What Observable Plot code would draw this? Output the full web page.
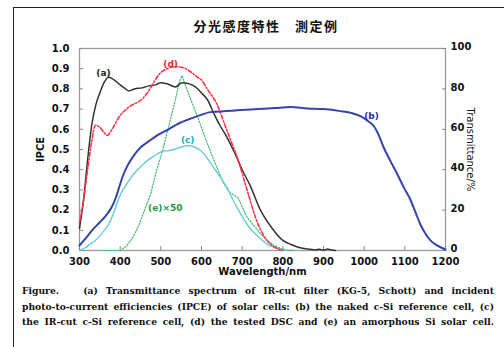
<!DOCTYPE html>
<html><head><meta charset="utf-8">
<script src="https://cdn.jsdelivr.net/npm/d3@7"></script>
<script src="https://cdn.jsdelivr.net/npm/@observablehq/plot@0.6"></script>
<style>
body{margin:0;background:#fff;}
#wrap{position:relative;width:504px;height:347px;overflow:hidden;background:#fff;}
#border{position:absolute;left:13px;top:7px;width:600px;height:400px;border-left:1.5px solid #222;border-top:1.5px solid #222;}
#title{position:absolute;top:17px;left:0;width:532px;text-align:center;font:bold 13px "Noto Sans CJK JP";letter-spacing:1.5px;color:#111;line-height:18px;}
#chart{position:absolute;left:0;top:0;}
#caption{position:absolute;left:22px;top:283px;width:472px;font:bold 9.2px "DejaVu Serif";line-height:15.5px;color:#111;}
#caption div{text-align:justify;text-align-last:justify;}
</style>
</head><body>
<div id="wrap">
<div id="border"></div>
<div id="chart"></div>
<div id="title">分光感度特性　測定例</div>
<div id="caption">
<div>Figure.&nbsp;&nbsp; (a) Transmittance spectrum of IR-cut filter (KG-5, Schott) and incident</div>
<div>photo-to-current efficiencies (IPCE) of solar cells: (b) the naked c-Si reference cell, (c)</div>
<div>the IR-cut c-Si reference cell, (d) the tested DSC and (e) an amorphous Si solar cell.</div>
</div>
</div>
<script>
// Tick labels
const xTicks = [300,400,500,600,700,800,900,1000,1100,1200];
const leftTicks = [0,0.1,0.2,0.3,0.4,0.5,0.6,0.7,0.8,0.9,1.0];
const rightTicks = [0,20,40,60,80,100];

// (a) IR-cut filter transmittance, %
const aNm  = [300,310,320,330,340,350,360,372,385,397,410,421,435,454,470,487,500,515,536,552,570,585,600,615,630,645,660,680,700,720,745,770,800,820,840,860,880,890,900,910,920,930];
const aPct = [11,25,45,62,72,78,83,85.8,84.5,82.5,80.5,79,80,80.5,81.5,82,83,82.5,81,83,82.5,81,78,74.5,68,62,57,49,40,32,20,12,5,3,1.5,0.7,0.3,0.6,0.2,0.7,0.2,0];

// (b) naked c-Si IPCE
const bNm = [300,315,331,350,364,378,389,397,405,418,430,450,470,495,519,545,569,590,622,660,696,740,780,819,860,900,942,970,991,1010,1024,1036,1048,1064,1081,1098,1114,1126,1138,1150,1163,1175,1188,1200];
const bV  = [0.025,0.06,0.10,0.14,0.17,0.21,0.26,0.31,0.36,0.42,0.46,0.51,0.54,0.575,0.60,0.63,0.65,0.665,0.685,0.69,0.695,0.70,0.705,0.71,0.703,0.70,0.69,0.68,0.665,0.64,0.615,0.57,0.51,0.445,0.38,0.31,0.25,0.19,0.13,0.085,0.05,0.03,0.016,0.005];

// (c) IR-cut c-Si IPCE
const cNm = [300,315,325,339,355,372,385,397,410,430,450,470,485,503,520,540,555,565,580,598,613,630,647,663,675,688,700,712,728,745,762,778,795,810];
const cV  = [0.0,0.015,0.03,0.05,0.085,0.13,0.19,0.26,0.31,0.37,0.415,0.45,0.47,0.49,0.495,0.505,0.515,0.52,0.515,0.495,0.46,0.41,0.36,0.31,0.26,0.21,0.17,0.13,0.09,0.058,0.03,0.016,0.006,0.0];

// (d) tested DSC IPCE
const dNm = [300,310,320,330,339,350,360,368,380,397,421,454,470,479,495,515,536,555,573,589,602,614,639,655,671,688,712,737,761,786,800];
const dV  = [0.14,0.25,0.40,0.54,0.62,0.61,0.585,0.57,0.60,0.66,0.71,0.75,0.79,0.82,0.87,0.90,0.91,0.905,0.885,0.86,0.84,0.80,0.72,0.635,0.55,0.46,0.30,0.14,0.05,0.01,0.0];

// (e) amorphous Si IPCE x50
const eNm = [355,375,400,415,430,445,460,475,490,505,520,535,545,552,560,575,589,605,622,640,655,670,680,690,712,730,745,762,778,795,810,830];
const eV  = [0.0,0.0,0.0,0.02,0.06,0.12,0.20,0.28,0.40,0.50,0.62,0.74,0.83,0.866,0.82,0.74,0.67,0.58,0.49,0.40,0.33,0.285,0.275,0.26,0.165,0.12,0.083,0.05,0.025,0.01,0.003,0.0];

// Curve labels (anchored in data space)
const labelText = ["(a)","(d)","(c)","(b)","(e)×50"];
const labelNm   = [359,524,566,1018,511];
const labelV    = [0.88,0.925,0.545,0.663,0.208];
const labelColor= ["#222","#ee2233","#22aacc","#2233aa","#229944"];

const zip = (xs, ys) => xs.map((x,i) => ({x, y: ys[i]}));
const aData = zip(aNm, aPct.map(v => v/100));
const bData = zip(bNm, bV), cData = zip(cNm, cV), dData = zip(dNm, dV), eData = zip(eNm, eV);
const labels = labelText.map((t,i) => ({t, x: labelNm[i], y: labelV[i], c: labelColor[i]}));

const chart = Plot.plot({
  width: 504, height: 290,
  marginLeft: 79, marginRight: 59, marginTop: 48, marginBottom: 40,
  x: {domain: [300,1200], label: null},
  y: {domain: [0,1], label: null},
  style: {fontFamily: "DejaVu Sans", fontSize: "10px", fontWeight: "bold", background: "transparent", color: "#111"},
  marks: [
    Plot.frame({stroke: "#999", strokeWidth: 1.3}),
    Plot.axisY({ticks: leftTicks, tickSize: 0, tickPadding: 10, tickFormat: d => d.toFixed(1), label: null}),
    Plot.axisY({ticks: leftTicks, tickSize: 4, dx: 4, fill: "none", stroke: "#888", label: null}),
    Plot.axisY({anchor: "right", ticks: rightTicks.map(t => t/100), tickSize: 0, tickPadding: 5, dy: -1.5, tickFormat: d => String(Math.round(d*100)), label: null}),
    Plot.axisY({anchor: "right", ticks: rightTicks.map(t => t/100), tickSize: 4, dx: -4, fill: "none", stroke: "#888", label: null}),
    Plot.axisX({ticks: xTicks, tickSize: 0, tickPadding: 7, tickFormat: d => String(d), label: null}),
    Plot.axisX({ticks: xTicks, tickSize: 4, dy: -4, fill: "none", stroke: "#888", label: null}),
    Plot.line(eData, {x: "x", y: "y", stroke: "#44bb77", strokeWidth: 1.2, strokeDasharray: "1.4,1.6"}),
    Plot.line(cData, {x: "x", y: "y", stroke: "#66ccdd", strokeWidth: 1.4, curve: "monotone-x"}),
    Plot.line(aData, {x: "x", y: "y", stroke: "#333", strokeWidth: 1.5, curve: "monotone-x"}),
    Plot.line(dData, {x: "x", y: "y", stroke: "#ff3344", strokeWidth: 1.6, strokeDasharray: "4,2,1.5,2", curve: "monotone-x"}),
    Plot.line(bData, {x: "x", y: "y", stroke: "#3344aa", strokeWidth: 2, curve: "monotone-x"}),
    Plot.text(labels, {x: "x", y: "y", text: "t", fill: "c", fontSize: 9}),
    Plot.text(["IPCE"], {text: d => d, frameAnchor: "left", textAnchor: "middle", dx: -39, rotate: -90, fontSize: 10}),
    Plot.text(["Transmittance/%"], {text: d => d, frameAnchor: "right", textAnchor: "middle", dx: 25, rotate: 90, fontWeight: "normal", fontSize: 10}),
    Plot.text(["Wavelength/nm"], {text: d => d, frameAnchor: "bottom", dy: 24.5, fontSize: 10})
  ]
});
document.getElementById("chart").appendChild(chart);
</script>
</body></html>
